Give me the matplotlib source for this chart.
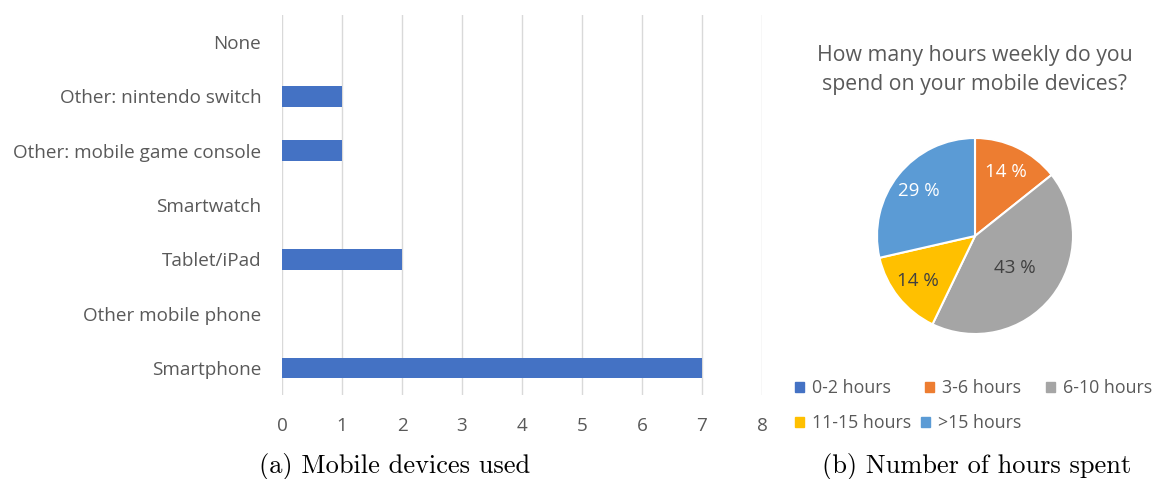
import matplotlib.pyplot as plt
from matplotlib.patches import Patch

plt.rcParams['font.family'] = ['Open Sans', 'DejaVu Sans']

# bar chart data
devices = ['Smartphone', 'Other mobile phone', 'Tablet/iPad', 'Smartwatch',
           'Other: mobile game console', 'Other: nintendo switch', 'None']
device_counts = [7, 0, 2, 0, 1, 1, 0]
x_ticks = [0, 1, 2, 3, 4, 5, 6, 7, 8]

# pie chart data
hour_labels = ['0-2 hours', '3-6 hours', '6-10 hours', '11-15 hours', '>15 hours']
hour_counts = [0, 1, 3, 1, 2]
hour_colors = ['#4472C4', '#ED7D31', '#A5A5A5', '#FFC000', '#5B9BD5']
pct_colors = ['white', 'white', '#404040', '#404040', 'white']
pct_radius = [0.73, 0.73, 0.52, 0.74, 0.73]

# legend entry positions in pixels (flowed row by row)
leg_x = [795, 925, 1046, 795, 921]
leg_y = [388, 388, 388, 423, 423]

txt = '#595959'
W, H = 1156, 479
fig = plt.figure(figsize=(W / 100, H / 100), dpi=100)

# left: horizontal bars
ax = fig.add_axes([282 / W, 1 - 395 / H, 480 / W, 380 / H])
ax.barh(range(len(devices)), device_counts, height=0.38, color='#4472C4', zorder=3)
ax.set_xlim(0, 8)
ax.set_ylim(-0.5, 6.5)
ax.set_xticks(x_ticks)
ax.set_yticks(range(len(devices)))
ax.set_yticklabels(devices)
ax.grid(axis='x', color='#D9D9D9', linewidth=1)
for s in ax.spines.values():
    s.set_visible(False)
ax.tick_params(length=0, colors=txt, labelsize=13.6)
ax.tick_params(axis='y', pad=15)
ax.tick_params(axis='x', pad=16)

# right: pie
r = 98
cx, cy = 975, 236
pax = fig.add_axes([(cx - r) / W, 1 - (cy + r) / H, 2 * r / W, 2 * r / H])


def fmt(p):
    return '' if p < 0.5 else '%d %%' % round(p)


wedges, texts, autotexts = pax.pie(hour_counts, colors=hour_colors, startangle=90,
                                   counterclock=False, autopct=fmt, pctdistance=1.0,
                                   wedgeprops=dict(edgecolor='white', linewidth=1.5))
for t, c, rr in zip(autotexts, pct_colors, pct_radius):
    x, y = t.get_position()
    t.set_position((x * rr, y * rr))
    t.set_color(c)
    t.set_fontsize(13.5)
pax.set_xlim(-1, 1)
pax.set_ylim(-1, 1)
pax.set_aspect('equal')

fig.text(cx / W, 1 - 70 / H, 'How many hours weekly do you\nspend on your mobile devices?',
         ha='center', va='center', fontsize=15.3, color=txt, linespacing=1.45)

for lab, col, lx, ly in zip(hour_labels, hour_colors, leg_x, leg_y):
    fig.legend([Patch(color=col)], [lab], loc='center left',
               bbox_to_anchor=(lx / W, 1 - ly / H),
               frameon=False, fontsize=12.8, labelcolor=txt, handlelength=0.5,
               handleheight=0.5, handletextpad=0.45, borderaxespad=0, borderpad=0)

# captions
fig.text(395 / W, 1 - 466 / H, '(a) Mobile devices used', ha='center', va='center',
         family='cmr10', fontsize=19)
fig.text(977 / W, 1 - 466 / H, '(b) Number of hours spent', ha='center', va='center',
         family='cmr10', fontsize=19)

fig.savefig('out.png', dpi=100)
